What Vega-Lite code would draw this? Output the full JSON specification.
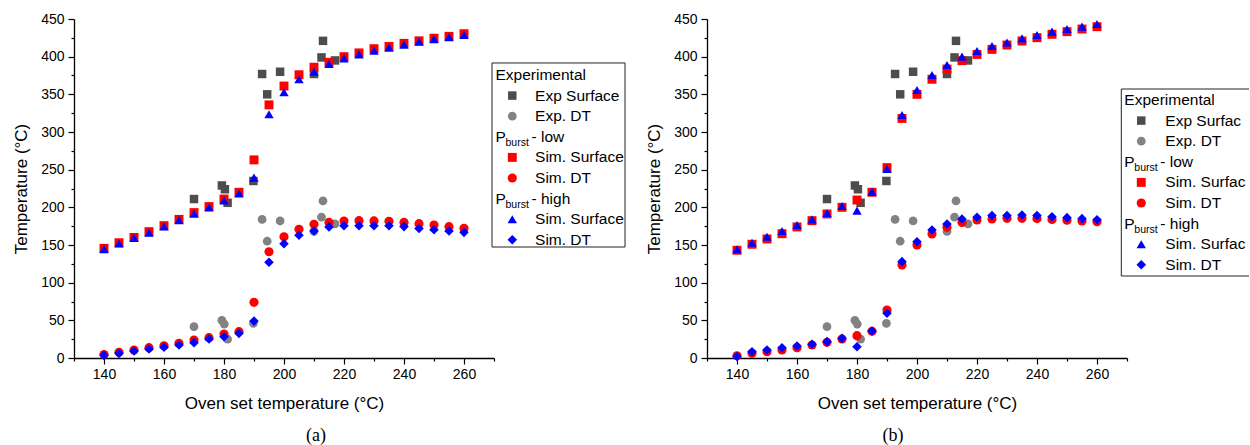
{
"$schema": "https://vega.github.io/schema/vega-lite/v6.json",
"background": "white",
"padding": {"left": 12, "top": 12, "right": 0, "bottom": 0},
"autosize": {"type": "pad"},
"bounds": "flush",
"spacing": 0,
"config": {
  "view": {"stroke": null},
  "font": "Liberation Sans",
  "axis": {"grid": false, "domainColor": "black", "tickColor": "black", "labelColor": "black", "titleColor": "black", "labelFont": "Liberation Sans", "titleFont": "Liberation Sans", "labelFontSize": 14, "titleFontSize": 17, "titleFontWeight": "normal", "domainWidth": 1.3, "tickWidth": 1.2},
  "title": {"font": "Liberation Serif", "fontSize": 18, "fontWeight": "normal", "color": "black"}
},
"datasets": {
  "exp": [
    {"T":170,"v":211,"s":"ES"},{"T":179.3,"v":229,"s":"ES"},{"T":180.3,"v":224,"s":"ES"},{"T":181.2,"v":206,"s":"ES"},{"T":189.8,"v":235,"s":"ES"},{"T":192.7,"v":377,"s":"ES"},{"T":194.4,"v":350,"s":"ES"},{"T":198.7,"v":380,"s":"ES"},{"T":210,"v":377,"s":"ES"},{"T":212.5,"v":399,"s":"ES"},{"T":213,"v":421,"s":"ES"},{"T":217,"v":395,"s":"ES"},
    {"T":170,"v":41.6,"s":"ED"},{"T":179.3,"v":50,"s":"ED"},{"T":180.1,"v":45,"s":"ED"},{"T":181.2,"v":25,"s":"ED"},{"T":189.8,"v":46,"s":"ED"},{"T":192.7,"v":184,"s":"ED"},{"T":194.4,"v":155,"s":"ED"},{"T":198.7,"v":182,"s":"ED"},{"T":210,"v":168,"s":"ED"},{"T":212.5,"v":187,"s":"ED"},{"T":213,"v":208.5,"s":"ED"},{"T":217,"v":178,"s":"ED"}
  ],
  "simA": [
    {"T":140,"v":145.6,"s":"LS"},{"T":145,"v":153,"s":"LS"},{"T":150,"v":160,"s":"LS"},{"T":155,"v":167.7,"s":"LS"},{"T":160,"v":175.7,"s":"LS"},{"T":165,"v":184,"s":"LS"},{"T":170,"v":193,"s":"LS"},{"T":175,"v":201,"s":"LS"},{"T":180,"v":211,"s":"LS"},{"T":185,"v":220,"s":"LS"},{"T":190,"v":263,"s":"LS"},{"T":195,"v":336,"s":"LS"},{"T":200,"v":361,"s":"LS"},{"T":205,"v":376,"s":"LS"},{"T":210,"v":386,"s":"LS"},{"T":215,"v":392.5,"s":"LS"},{"T":220,"v":400,"s":"LS"},{"T":225,"v":405,"s":"LS"},{"T":230,"v":410.6,"s":"LS"},{"T":235,"v":413.5,"s":"LS"},{"T":240,"v":417.7,"s":"LS"},{"T":245,"v":421,"s":"LS"},{"T":250,"v":424.5,"s":"LS"},{"T":255,"v":427,"s":"LS"},{"T":260,"v":430.5,"s":"LS"},
    {"T":140,"v":4.5,"s":"LD"},{"T":145,"v":7.5,"s":"LD"},{"T":150,"v":10.6,"s":"LD"},{"T":155,"v":13.7,"s":"LD"},{"T":160,"v":16.3,"s":"LD"},{"T":165,"v":19.5,"s":"LD"},{"T":170,"v":23.9,"s":"LD"},{"T":175,"v":27,"s":"LD"},{"T":180,"v":31.9,"s":"LD"},{"T":185,"v":35,"s":"LD"},{"T":190,"v":73.9,"s":"LD"},{"T":195,"v":141,"s":"LD"},{"T":200,"v":161,"s":"LD"},{"T":205,"v":170.8,"s":"LD"},{"T":210,"v":177.5,"s":"LD"},{"T":215,"v":180,"s":"LD"},{"T":220,"v":181.9,"s":"LD"},{"T":225,"v":182.3,"s":"LD"},{"T":230,"v":182,"s":"LD"},{"T":235,"v":181.5,"s":"LD"},{"T":240,"v":180,"s":"LD"},{"T":245,"v":178.3,"s":"LD"},{"T":250,"v":176.6,"s":"LD"},{"T":255,"v":174.4,"s":"LD"},{"T":260,"v":172.1,"s":"LD"},
    {"T":140,"v":144.5,"s":"HS"},{"T":145,"v":152,"s":"HS"},{"T":150,"v":159.5,"s":"HS"},{"T":155,"v":166.5,"s":"HS"},{"T":160,"v":174.5,"s":"HS"},{"T":165,"v":183,"s":"HS"},{"T":170,"v":191.5,"s":"HS"},{"T":175,"v":200,"s":"HS"},{"T":180,"v":209,"s":"HS"},{"T":185,"v":218.6,"s":"HS"},{"T":190,"v":239.4,"s":"HS"},{"T":195,"v":323.5,"s":"HS"},{"T":200,"v":352.7,"s":"HS"},{"T":205,"v":370,"s":"HS"},{"T":210,"v":380,"s":"HS"},{"T":215,"v":390.3,"s":"HS"},{"T":220,"v":397.8,"s":"HS"},{"T":225,"v":403,"s":"HS"},{"T":230,"v":408,"s":"HS"},{"T":235,"v":412,"s":"HS"},{"T":240,"v":416,"s":"HS"},{"T":245,"v":420,"s":"HS"},{"T":250,"v":423.3,"s":"HS"},{"T":255,"v":426,"s":"HS"},{"T":260,"v":428.7,"s":"HS"},
    {"T":140,"v":3.5,"s":"HD"},{"T":145,"v":6.2,"s":"HD"},{"T":150,"v":9.3,"s":"HD"},{"T":155,"v":12,"s":"HD"},{"T":160,"v":14.2,"s":"HD"},{"T":165,"v":17.3,"s":"HD"},{"T":170,"v":20.4,"s":"HD"},{"T":175,"v":25.2,"s":"HD"},{"T":180,"v":28.3,"s":"HD"},{"T":185,"v":32.7,"s":"HD"},{"T":190,"v":49,"s":"HD"},{"T":195,"v":127,"s":"HD"},{"T":200,"v":151.7,"s":"HD"},{"T":205,"v":163,"s":"HD"},{"T":210,"v":168.6,"s":"HD"},{"T":215,"v":174,"s":"HD"},{"T":220,"v":175.6,"s":"HD"},{"T":225,"v":175.6,"s":"HD"},{"T":230,"v":175.6,"s":"HD"},{"T":235,"v":175.6,"s":"HD"},{"T":240,"v":174.4,"s":"HD"},{"T":245,"v":172,"s":"HD"},{"T":250,"v":170.3,"s":"HD"},{"T":255,"v":168.6,"s":"HD"},{"T":260,"v":166.8,"s":"HD"}
  ],
  "simB": [
    {"T":140,"v":143,"s":"LS"},{"T":145,"v":151,"s":"LS"},{"T":150,"v":158,"s":"LS"},{"T":155,"v":165,"s":"LS"},{"T":160,"v":174,"s":"LS"},{"T":165,"v":182.3,"s":"LS"},{"T":170,"v":191.2,"s":"LS"},{"T":175,"v":200,"s":"LS"},{"T":180,"v":209.7,"s":"LS"},{"T":185,"v":220,"s":"LS"},{"T":190,"v":252.7,"s":"LS"},{"T":195,"v":318,"s":"LS"},{"T":200,"v":350,"s":"LS"},{"T":205,"v":370,"s":"LS"},{"T":210,"v":383.6,"s":"LS"},{"T":215,"v":394.7,"s":"LS"},{"T":220,"v":403,"s":"LS"},{"T":225,"v":409.7,"s":"LS"},{"T":230,"v":415.5,"s":"LS"},{"T":235,"v":420.8,"s":"LS"},{"T":240,"v":425.2,"s":"LS"},{"T":245,"v":429.7,"s":"LS"},{"T":250,"v":433.2,"s":"LS"},{"T":255,"v":436.7,"s":"LS"},{"T":260,"v":439.8,"s":"LS"},
    {"T":140,"v":3,"s":"LD"},{"T":145,"v":6.2,"s":"LD"},{"T":150,"v":8.4,"s":"LD"},{"T":155,"v":10.6,"s":"LD"},{"T":160,"v":13.7,"s":"LD"},{"T":165,"v":17.3,"s":"LD"},{"T":170,"v":20.8,"s":"LD"},{"T":175,"v":25.2,"s":"LD"},{"T":180,"v":29.6,"s":"LD"},{"T":185,"v":35.5,"s":"LD"},{"T":190,"v":63.7,"s":"LD"},{"T":195,"v":123.5,"s":"LD"},{"T":200,"v":150,"s":"LD"},{"T":205,"v":164.6,"s":"LD"},{"T":210,"v":173.5,"s":"LD"},{"T":215,"v":180,"s":"LD"},{"T":220,"v":183.2,"s":"LD"},{"T":225,"v":184.5,"s":"LD"},{"T":230,"v":185.4,"s":"LD"},{"T":235,"v":185.4,"s":"LD"},{"T":240,"v":185,"s":"LD"},{"T":245,"v":184,"s":"LD"},{"T":250,"v":182.8,"s":"LD"},{"T":255,"v":181.9,"s":"LD"},{"T":260,"v":181,"s":"LD"},
    {"T":140,"v":144.3,"s":"HS"},{"T":145,"v":153,"s":"HS"},{"T":150,"v":161,"s":"HS"},{"T":155,"v":168.6,"s":"HS"},{"T":160,"v":176.6,"s":"HS"},{"T":165,"v":184,"s":"HS"},{"T":170,"v":192.5,"s":"HS"},{"T":175,"v":201.8,"s":"HS"},{"T":180,"v":195.6,"s":"HS"},{"T":185,"v":220.8,"s":"HS"},{"T":190,"v":250.9,"s":"HS"},{"T":195,"v":322.6,"s":"HS"},{"T":200,"v":355.8,"s":"HS"},{"T":205,"v":375.7,"s":"HS"},{"T":210,"v":389,"s":"HS"},{"T":215,"v":400,"s":"HS"},{"T":220,"v":407.5,"s":"HS"},{"T":225,"v":414.2,"s":"HS"},{"T":230,"v":418.8,"s":"HS"},{"T":235,"v":424.3,"s":"HS"},{"T":240,"v":428.8,"s":"HS"},{"T":245,"v":433.2,"s":"HS"},{"T":250,"v":436.7,"s":"HS"},{"T":255,"v":439.8,"s":"HS"},{"T":260,"v":443.4,"s":"HS"},
    {"T":140,"v":2,"s":"HD"},{"T":145,"v":8.4,"s":"HD"},{"T":150,"v":10.6,"s":"HD"},{"T":155,"v":13.7,"s":"HD"},{"T":160,"v":15.9,"s":"HD"},{"T":165,"v":18.2,"s":"HD"},{"T":170,"v":21.7,"s":"HD"},{"T":175,"v":26.1,"s":"HD"},{"T":180,"v":15,"s":"HD"},{"T":185,"v":35.8,"s":"HD"},{"T":190,"v":59.3,"s":"HD"},{"T":195,"v":127.9,"s":"HD"},{"T":200,"v":154.4,"s":"HD"},{"T":205,"v":170,"s":"HD"},{"T":210,"v":177.9,"s":"HD"},{"T":215,"v":184.5,"s":"HD"},{"T":220,"v":186.8,"s":"HD"},{"T":225,"v":189,"s":"HD"},{"T":230,"v":189,"s":"HD"},{"T":235,"v":189.8,"s":"HD"},{"T":240,"v":189,"s":"HD"},{"T":245,"v":187.6,"s":"HD"},{"T":250,"v":186.3,"s":"HD"},{"T":255,"v":185,"s":"HD"},{"T":260,"v":183.6,"s":"HD"}
  ],
  "legend": [
    {"r":0,"kind":"head","text":"Experimental"},
    {"r":1,"kind":"item","s":"ES","text":"Exp Surface"},
    {"r":2,"kind":"item","s":"ED","text":"Exp. DT"},
    {"r":3,"kind":"sub","text":"P","sub":"burst","tail":"- low"},
    {"r":4,"kind":"item","s":"LS","text":"Sim. Surface"},
    {"r":5,"kind":"item","s":"LD","text":"Sim. DT"},
    {"r":6,"kind":"sub","text":"P","sub":"burst","tail":"- high"},
    {"r":7,"kind":"item","s":"HS","text":"Sim. Surface"},
    {"r":8,"kind":"item","s":"HD","text":"Sim. DT"}
  ]
},
"hconcat": [
  {
    "width": 420, "height": 339,
    "title": {"text": "(a)", "orient": "bottom", "anchor": "middle", "frame": "group", "dx": 32, "offset": 16},
    "resolve": {"axis": {"x": "independent", "y": "independent"}},
    "layer": [
      {"data": {"name": "exp"}, "mark": {"type": "point", "filled": true, "opacity": 1, "strokeWidth": 0},
       "encoding": {
        "x": {"field": "T", "type": "quantitative", "scale": {"domain": [130, 270], "nice": false, "zero": false}, "axis": {"orient": "bottom", "values": [140,160,180,200,220,240,260], "tickSize": 6, "labelPadding": 3, "title": "Oven set temperature (°C)", "titlePadding": 14}},
        "y": {"field": "v", "type": "quantitative", "scale": {"domain": [0, 450], "nice": false, "zero": false}, "axis": {"orient": "left", "values": [0,50,100,150,200,250,300,350,400,450], "tickSize": 6, "labelPadding": 4, "title": "Temperature (°C)", "titlePadding": 10}},
        "color": {"field": "s", "type": "nominal", "scale": {"domain": ["ES","ED","LS","LD","HS","HD"], "range": ["#4d4d4d","#828282","#ff0000","#ff0000","#0000ff","#0000ff"]}, "legend": null},
        "shape": {"field": "s", "type": "nominal", "scale": {"domain": ["ES","ED","LS","LD","HS","HD"], "range": ["square","circle","square","circle","triangle-up","diamond"]}, "legend": null},
        "size": {"field": "s", "type": "ordinal", "scale": {"domain": ["ES","ED","LS","LD","HS","HD"], "range": [72,92,72,92,135,112]}, "legend": null}
       }},
      {"data": {"name": "simA"}, "mark": {"type": "point", "filled": true, "opacity": 1, "strokeWidth": 0},
       "encoding": {
        "x": {"field": "T", "type": "quantitative", "scale": {"domain": [130, 270], "nice": false, "zero": false}, "axis": {"orient": "bottom", "values": [130,150,170,190,210,230,250,270], "tickSize": 3, "labels": false, "domain": false, "title": null}},
        "y": {"field": "v", "type": "quantitative", "scale": {"domain": [0, 450], "nice": false, "zero": false}, "axis": {"orient": "left", "values": [25,75,125,175,225,275,325,375,425], "tickSize": 3, "labels": false, "domain": false, "title": null}},
        "color": {"field": "s", "type": "nominal", "scale": {"domain": ["ES","ED","LS","LD","HS","HD"], "range": ["#4d4d4d","#828282","#ff0000","#ff0000","#0000ff","#0000ff"]}, "legend": null},
        "shape": {"field": "s", "type": "nominal", "scale": {"domain": ["ES","ED","LS","LD","HS","HD"], "range": ["square","circle","square","circle","triangle-up","diamond"]}, "legend": null},
        "size": {"field": "s", "type": "ordinal", "scale": {"domain": ["ES","ED","LS","LD","HS","HD"], "range": [72,92,72,92,135,112]}, "legend": null}
       }}
    ]
  },
  {
    "width": 212.7, "height": 339,
    "layer": [
      {"data": {"values": [{}]}, "mark": {"type": "rect", "fill": "white", "stroke": "#222222", "strokeWidth": 1},
       "encoding": {
        "x": {"datum": -0.0094, "type": "quantitative", "scale": {"domain": [0, 1], "nice": false, "zero": false}, "axis": null},
        "x2": {"datum": 0.616},
        "y": {"datum": -0.583, "type": "quantitative", "scale": {"domain": [-2.718, 13.738], "reverse": true, "nice": false, "zero": false}, "axis": null},
        "y2": {"datum": 8.35}
       }},
      {"data": {"name": "legend"}, "transform": [{"filter": "datum.kind !== 'item'"}],
       "mark": {"type": "text", "align": "left", "baseline": "middle", "font": "Liberation Sans", "fontSize": 15.5, "color": "black"},
       "encoding": {
        "x": {"datum": 0.007, "type": "quantitative"},
        "y": {"field": "r", "type": "quantitative"},
        "text": {"field": "text"}
       }},
      {"data": {"name": "legend"}, "transform": [{"filter": "datum.kind === 'sub'"}],
       "mark": {"type": "text", "align": "left", "baseline": "middle", "font": "Liberation Sans", "fontSize": 10.5, "color": "black", "dx": 10, "dy": 6},
       "encoding": {
        "x": {"datum": 0.007, "type": "quantitative"},
        "y": {"field": "r", "type": "quantitative"},
        "text": {"field": "sub"}
       }},
      {"data": {"name": "legend"}, "transform": [{"filter": "datum.kind === 'sub'"}],
       "mark": {"type": "text", "align": "left", "baseline": "middle", "font": "Liberation Sans", "fontSize": 15.5, "color": "black", "dx": 36},
       "encoding": {
        "x": {"datum": 0.007, "type": "quantitative"},
        "y": {"field": "r", "type": "quantitative"},
        "text": {"field": "tail"}
       }},
      {"data": {"name": "legend"}, "transform": [{"filter": "datum.kind === 'item'"}],
       "mark": {"type": "point", "filled": true, "opacity": 1, "strokeWidth": 0},
       "encoding": {
        "x": {"datum": 0.086, "type": "quantitative"},
        "y": {"field": "r", "type": "quantitative"},
        "color": {"field": "s", "type": "nominal", "scale": {"domain": ["ES","ED","LS","LD","HS","HD"], "range": ["#4d4d4d","#828282","#ff0000","#ff0000","#0000ff","#0000ff"]}, "legend": null},
        "shape": {"field": "s", "type": "nominal", "scale": {"domain": ["ES","ED","LS","LD","HS","HD"], "range": ["square","circle","square","circle","triangle-up","diamond"]}, "legend": null},
        "size": {"field": "s", "type": "ordinal", "scale": {"domain": ["ES","ED","LS","LD","HS","HD"], "range": [64,80,64,80,120,100]}, "legend": null}
       }},
      {"data": {"name": "legend"}, "transform": [{"filter": "datum.kind === 'item'"}],
       "mark": {"type": "text", "align": "left", "baseline": "middle", "font": "Liberation Sans", "fontSize": 15.5, "color": "black"},
       "encoding": {
        "x": {"datum": 0.193, "type": "quantitative"},
        "y": {"field": "r", "type": "quantitative"},
        "text": {"field": "text"}
       }}
    ]
  },
  {
    "width": 420, "height": 339,
    "title": {"text": "(b)", "orient": "bottom", "anchor": "middle", "frame": "group", "dx": -24, "offset": 16},
    "resolve": {"axis": {"x": "independent", "y": "independent"}},
    "layer": [
      {"data": {"name": "exp"}, "mark": {"type": "point", "filled": true, "opacity": 1, "strokeWidth": 0},
       "encoding": {
        "x": {"field": "T", "type": "quantitative", "scale": {"domain": [130, 270], "nice": false, "zero": false}, "axis": {"orient": "bottom", "values": [140,160,180,200,220,240,260], "tickSize": 6, "labelPadding": 3, "title": "Oven set temperature (°C)", "titlePadding": 14}},
        "y": {"field": "v", "type": "quantitative", "scale": {"domain": [0, 450], "nice": false, "zero": false}, "axis": {"orient": "left", "values": [0,50,100,150,200,250,300,350,400,450], "tickSize": 6, "labelPadding": 4, "title": "Temperature (°C)", "titlePadding": 10}},
        "color": {"field": "s", "type": "nominal", "scale": {"domain": ["ES","ED","LS","LD","HS","HD"], "range": ["#4d4d4d","#828282","#ff0000","#ff0000","#0000ff","#0000ff"]}, "legend": null},
        "shape": {"field": "s", "type": "nominal", "scale": {"domain": ["ES","ED","LS","LD","HS","HD"], "range": ["square","circle","square","circle","triangle-up","diamond"]}, "legend": null},
        "size": {"field": "s", "type": "ordinal", "scale": {"domain": ["ES","ED","LS","LD","HS","HD"], "range": [72,92,72,92,135,112]}, "legend": null}
       }},
      {"data": {"name": "simB"}, "mark": {"type": "point", "filled": true, "opacity": 1, "strokeWidth": 0},
       "encoding": {
        "x": {"field": "T", "type": "quantitative", "scale": {"domain": [130, 270], "nice": false, "zero": false}, "axis": {"orient": "bottom", "values": [130,150,170,190,210,230,250,270], "tickSize": 3, "labels": false, "domain": false, "title": null}},
        "y": {"field": "v", "type": "quantitative", "scale": {"domain": [0, 450], "nice": false, "zero": false}, "axis": {"orient": "left", "values": [25,75,125,175,225,275,325,375,425], "tickSize": 3, "labels": false, "domain": false, "title": null}},
        "color": {"field": "s", "type": "nominal", "scale": {"domain": ["ES","ED","LS","LD","HS","HD"], "range": ["#4d4d4d","#828282","#ff0000","#ff0000","#0000ff","#0000ff"]}, "legend": null},
        "shape": {"field": "s", "type": "nominal", "scale": {"domain": ["ES","ED","LS","LD","HS","HD"], "range": ["square","circle","square","circle","triangle-up","diamond"]}, "legend": null},
        "size": {"field": "s", "type": "ordinal", "scale": {"domain": ["ES","ED","LS","LD","HS","HD"], "range": [72,92,72,92,135,112]}, "legend": null}
       }}
    ]
  },
  {
    "width": 122, "height": 339,
    "layer": [
      {"data": {"values": [{}]}, "mark": {"type": "rule", "stroke": "#222222", "strokeWidth": 1},
       "encoding": {
        "x": {"datum": -0.0467, "type": "quantitative", "scale": {"domain": [0, 1], "nice": false, "zero": false}, "axis": null},
        "x2": {"datum": 1},
        "y": {"datum": -0.534, "type": "quantitative", "scale": {"domain": [-3.932, 12.524], "reverse": true, "nice": false, "zero": false}, "axis": null}
       }},
      {"data": {"values": [{}]}, "mark": {"type": "rule", "stroke": "#222222", "strokeWidth": 1},
       "encoding": {
        "x": {"datum": -0.0467, "type": "quantitative"},
        "x2": {"datum": 1},
        "y": {"datum": 8.544, "type": "quantitative"}
       }},
      {"data": {"values": [{}]}, "mark": {"type": "rule", "stroke": "#222222", "strokeWidth": 1},
       "encoding": {
        "x": {"datum": -0.0467, "type": "quantitative"},
        "y": {"datum": -0.534, "type": "quantitative"},
        "y2": {"datum": 8.544}
       }},
      {"data": {"name": "legend"}, "transform": [{"filter": "datum.kind !== 'item'"}],
       "mark": {"type": "text", "align": "left", "baseline": "middle", "font": "Liberation Sans", "fontSize": 15.5, "color": "black"},
       "encoding": {
        "x": {"datum": -0.022, "type": "quantitative"},
        "y": {"field": "r", "type": "quantitative"},
        "text": {"field": "text"}
       }},
      {"data": {"name": "legend"}, "transform": [{"filter": "datum.kind === 'sub'"}],
       "mark": {"type": "text", "align": "left", "baseline": "middle", "font": "Liberation Sans", "fontSize": 10.5, "color": "black", "dx": 10, "dy": 6},
       "encoding": {
        "x": {"datum": -0.022, "type": "quantitative"},
        "y": {"field": "r", "type": "quantitative"},
        "text": {"field": "sub"}
       }},
      {"data": {"name": "legend"}, "transform": [{"filter": "datum.kind === 'sub'"}],
       "mark": {"type": "text", "align": "left", "baseline": "middle", "font": "Liberation Sans", "fontSize": 15.5, "color": "black", "dx": 36},
       "encoding": {
        "x": {"datum": -0.022, "type": "quantitative"},
        "y": {"field": "r", "type": "quantitative"},
        "text": {"field": "tail"}
       }},
      {"data": {"name": "legend"}, "transform": [{"filter": "datum.kind === 'item'"}],
       "mark": {"type": "point", "filled": true, "opacity": 1, "strokeWidth": 0},
       "encoding": {
        "x": {"datum": 0.117, "type": "quantitative"},
        "y": {"field": "r", "type": "quantitative"},
        "color": {"field": "s", "type": "nominal", "scale": {"domain": ["ES","ED","LS","LD","HS","HD"], "range": ["#4d4d4d","#828282","#ff0000","#ff0000","#0000ff","#0000ff"]}, "legend": null},
        "shape": {"field": "s", "type": "nominal", "scale": {"domain": ["ES","ED","LS","LD","HS","HD"], "range": ["square","circle","square","circle","triangle-up","diamond"]}, "legend": null},
        "size": {"field": "s", "type": "ordinal", "scale": {"domain": ["ES","ED","LS","LD","HS","HD"], "range": [64,80,64,80,120,100]}, "legend": null}
       }},
      {"data": {"name": "legend"}, "transform": [{"filter": "datum.kind === 'item'"}],
       "mark": {"type": "text", "align": "left", "baseline": "middle", "font": "Liberation Sans", "fontSize": 15.5, "color": "black", "limit": 84, "ellipsis": "\u200b"},
       "encoding": {
        "x": {"datum": 0.314, "type": "quantitative"},
        "y": {"field": "r", "type": "quantitative"},
        "text": {"field": "text"}
       }}
    ]
  }
]
}
